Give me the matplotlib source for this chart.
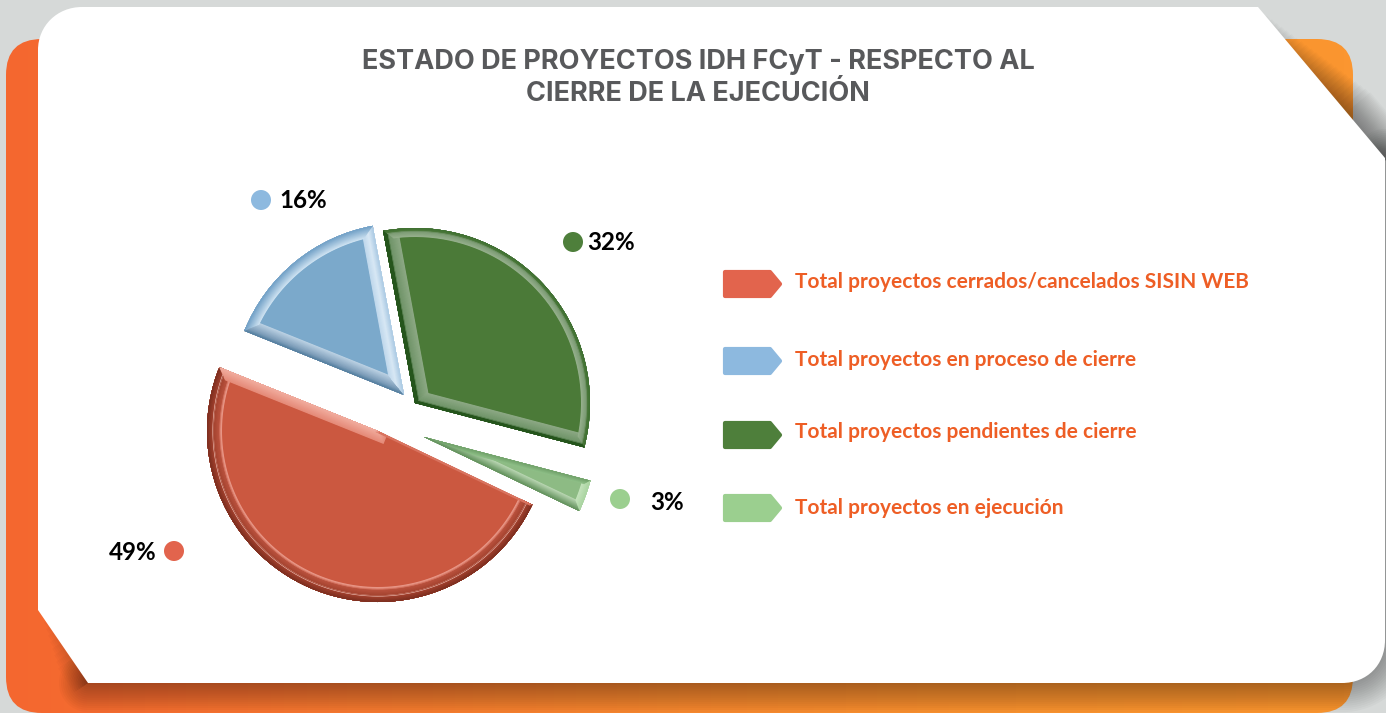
import numpy as np
from matplotlib import pyplot as plt
from matplotlib.colors import LinearSegmentedColormap, to_rgb
from matplotlib.patches import Circle, FancyBboxPatch, PathPatch, Polygon
from matplotlib.path import Path

W, H = 1386, 713

title = 'ESTADO DE PROYECTOS IDH FCyT - RESPECTO AL\nCIERRE DE LA EJECUCIÓN'
series = ['Total proyectos cerrados/cancelados SISIN WEB',
          'Total proyectos en proceso de cierre',
          'Total proyectos pendientes de cierre',
          'Total proyectos en ejecución']
values = [49, 16, 32, 3]
pct_labels = ['49%', '16%', '32%', '3%']
marker_colors = ['#E2644D', '#8DB9DF', '#4E7F3B', '#9BCF8F']
face_colors = ['#CB5840', '#7BA9CB', '#4B7A38', '#8DBB84']

# apex and radius of every exploded slice, in pixels from the top left
apex = [(378, 431), (404, 395), (415, 403), (424, 437)]
radii = [171, 172, 175, 172]

# (side, outer colour, inner colour, outer inset, inner inset)
# a1/a2 = straight edges at theta1/theta2
bevels = [
    [('a2', '#D9735F', '#D9735F', 0, 2),
     ('a1', '#F2AEA0', '#E58A78', 0, 10),
     ('arc', '#7A2E1F', '#A5412E', 0, 6),
     ('arc', '#EFC4BA', '#EFC4BA', 6, 6.8),
     ('arc', '#A5432F', '#BC5440', 6.8, 13),
     ('arc', '#DC7D6A', '#E9998A', 13, 15)],
    [('arc', '#6F9FC6', '#CFE3F2', 0, 11),
     ('a1', '#A9C9E3', '#D8E8F5', 0, 6),
     ('a1', '#D8E8F5', '#BFD8EC', 6, 12),
     ('a2', '#4F7B9C', '#7F9FBB', 0, 4),
     ('a2', '#7F9FBB', '#BCD2E4', 4, 13)],
    [('arc', '#3C6E2E', '#4F7C3F', 0, 3.5),
     ('arc', '#7A9A72', '#96B08D', 3.5, 9),
     ('a1', '#25551C', '#25551C', 0, 3.5),
     ('a1', '#6F9468', '#8DA985', 3.5, 13),
     ('a2', '#25551C', '#25551C', 0, 4.5),
     ('a2', '#6F9468', '#8DA985', 4.5, 15)],
    [('arc', '#A9D4A0', '#C4E3BC', 0, 8),
     ('a2', '#6F9F68', '#8FC088', 0, 5),
     ('a1', '#5F8F59', '#B9D6B2', 0, 9)],
]

# percentage label: dot centre, text anchor x, text y, alignment
dots = [(174, 551), (261, 200), (573, 242), (620, 499)]
text_pos = [(156, 552, 'right'), (279, 201, 'left'), (587, 243, 'left'), (684, 502, 'right')]

legend_top = [270, 347, 421, 494]
legend_text_y = [282.5, 359.5, 432.5, 508.5]

fig = plt.figure(figsize=(W / 100, H / 100), dpi=100, facecolor='#D6D9D8')
ax = fig.add_axes([0, 0, 1, 1])
ax.set_facecolor('#D6D9D8')

# orange panel behind the card
panel = FancyBboxPatch((6, 39), 1347, 674, boxstyle='round,pad=0,rounding_size=36',
                       fc='none', ec='none')
ax.add_patch(panel)
orange = LinearSegmentedColormap.from_list('orange', [(0, '#F4672F'), (0.1, '#F56E31'), (0.5, '#F6882F'),
                                                      (0.75, '#F8922F'), (1, '#FB9630')])
img = ax.imshow(np.linspace(0, 1, 300).reshape(1, -1), cmap=orange, extent=(6, 1353, 713, 39),
                aspect='auto', zorder=1)
img.set_clip_path(panel)

# white card with two cut corners
verts = [(38, 50), (38, 26), (57, 7), (82, 7), (1258, 7), (1385, 158), (1385, 640),
         (1385, 665), (1367, 683), (1342, 683), (88, 683), (38, 610), (38, 50)]
codes = [Path.MOVETO, Path.CURVE4, Path.CURVE4, Path.CURVE4, Path.LINETO, Path.LINETO, Path.LINETO,
         Path.CURVE4, Path.CURVE4, Path.CURVE4, Path.LINETO, Path.LINETO, Path.CLOSEPOLY]
card = Path(verts, codes)

# soft shadow from stacked strokes, only under the right and bottom edges
under = Path([(1385, 158), (1385, 640), (1385, 665), (1367, 683), (1342, 683), (88, 683)],
             [Path.MOVETO, Path.LINETO, Path.CURVE4, Path.CURVE4, Path.CURVE4, Path.LINETO])
for lw in range(42, 0, -3):
    ax.add_patch(PathPatch(under, fc='none', ec='black', lw=lw, alpha=0.024, zorder=2,
                           capstyle='round', joinstyle='round'))
# along the diagonal and the chamfer the shadow widens towards one end
for lw in range(44, 0, -2):
    t = lw / 44
    ax.plot([1262 + t * 85, 1388], [12 + t * 100, 160], color='black', lw=lw, alpha=0.018,
            zorder=2, solid_capstyle='butt')
for lw in range(24, 0, -3):
    t = lw / 24
    ax.plot([88, 42 + t * 30], [683, 616 + t * 43], color='black', lw=lw, alpha=0.018,
            zorder=2, solid_capstyle='butt')
ax.add_patch(PathPatch(card, fc='white', ec='none', zorder=3))

ax.text(698, 78, title, ha='center', va='center', color='#58595B', fontsize=19.5,
        family='Inter', fontweight='bold', linespacing=1.32, zorder=5)

for i, name in enumerate(series):
    top = legend_top[i]
    ax.add_patch(Polygon([(725, top + 2), (770, top + 2), (780, top + 14), (770, top + 26), (725, top + 26)],
                         closed=True, fc=marker_colors[i], ec=marker_colors[i], lw=3,
                         joinstyle='round', zorder=5))
    ax.text(795, legend_text_y[i], name, ha='left', va='center', color='#EE5E25', fontsize=15.05,
            family='Lato', fontweight='bold', zorder=5)

for i, label in enumerate(pct_labels):
    ax.add_patch(Circle(dots[i], 10, fc=marker_colors[i], ec='none', zorder=5))
    x, y, align = text_pos[i]
    ax.text(x, y, label, ha=align, va='center', color='black', fontsize=17.4, family='Lato',
            fontweight='bold', zorder=5)

ax.set_xlim(0, W)
ax.set_ylim(H, 0)
ax.axis('off')

# pie on its own y-up axes
pax = fig.add_axes([0, 0, 1, 1], zorder=2)
wedges, _ = pax.pie(values, colors=face_colors, radius=radii[0], startangle=-25.5,
                    counterclock=False, frame=True, wedgeprops={'lw': 0})


def side_line(wedge, side):
    cx, cy = wedge.center
    r = wedge.r
    if side == 'arc':
        t = np.radians(np.linspace(wedge.theta1, wedge.theta2, 200))
        return cx + r * np.cos(t), cy + r * np.sin(t)
    t = np.radians(wedge.theta1 if side == 'a1' else wedge.theta2)
    return [cx, cx + r * np.cos(t)], [cy, cy + r * np.sin(t)]


for wedge, (px, py), r, strokes in zip(wedges, apex, radii, bevels):
    wedge.set_center((px, H - py))
    wedge.set_radius(r)
    rings = []
    for side, outer, inner, d0, d1 in strokes:
        steps = max(2, int((d1 - d0) * 2))
        for f in np.linspace(0, 1, steps):
            color = np.array(to_rgb(outer)) * (1 - f) + np.array(to_rgb(inner)) * f
            rings.append((d0 + (d1 - d0) * f, side, tuple(color)))
    # widest stroke first, so each one shows only as a thin ring
    rings.sort(key=lambda ring: -ring[0])
    for width, side, color in rings:
        xs, ys = side_line(wedge, side)
        line, = pax.plot(xs, ys, color=color, lw=2 * width * 0.72, solid_capstyle='projecting')
        line.set_clip_path(wedge)

pax.set_xlim(0, W)
pax.set_ylim(0, H)
pax.set_aspect('auto')
pax.axis('off')

fig.savefig('out.png', dpi=100)
